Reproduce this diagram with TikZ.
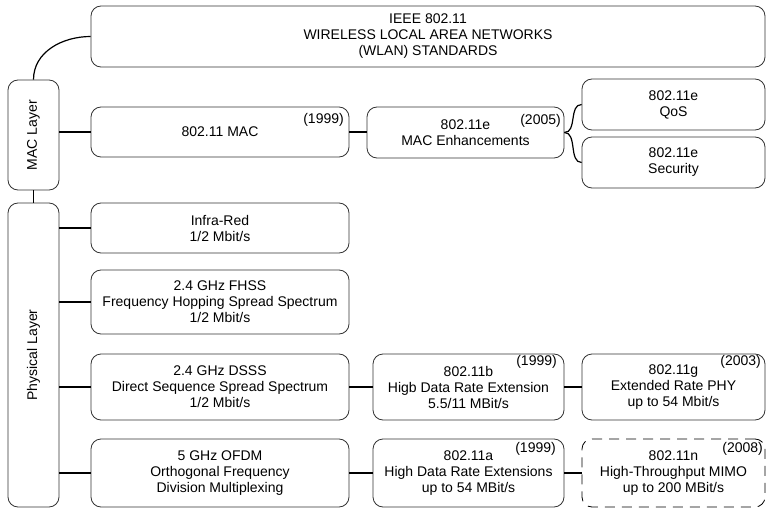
\documentclass[tikz,border=0pt]{standalone}
\usepackage{fontspec}
\setmainfont{Liberation Sans}
\usetikzlibrary{positioning}

\begin{document}
\begin{tikzpicture}[x=1pt, y=-1pt, font=\fontsize{14}{16}\selectfont,
  stdbox/.style={draw=black!80, line width=0.8pt, rounded corners=10pt, align=center, inner sep=0pt},
  year/.style={anchor=east, inner sep=0pt},
  link/.style={black, line width=1.2pt}]
  \useasboundingbox (0,0) rectangle (766,508);
  % ---- standard boxes: name / left / top / right / bottom / text ----
  \foreach \n/\xa/\ya/\xb/\yb/\t in {
    ieee/91/6/765/67/{IEEE 802.11\\WIRELESS LOCAL AREA NETWORKS\\(WLAN) STANDARDS},
    mac/8/80/59/190/{},
    phy/8/203/59/507/{},
    macstd/91/107/349/157/{802.11 MAC},
    emac/367/107/564/158/{802.11e\\MAC Enhancements},
    qos/582/79/765/130/{802.11e\\QoS},
    sec/582/137/765/188/{802.11e\\Security},
    ir/91/203/349/253/{Infra-Red\\1/2 Mbit/s},
    fhss/91/270/349/334/{2.4 GHz FHSS\\Frequency Hopping Spread Spectrum\\1/2 Mbit/s},
    dsss/91/354/349/420/{2.4 GHz DSSS\\Direct Sequence Spread Spectrum\\1/2 Mbit/s},
    ofdm/91/439/349/507/{5 GHz OFDM\\Orthogonal Frequency\\Division Multiplexing},
    hrb/373/354/564/420/{802.11b\\Higb Data Rate Extension\\5.5/11 MBit/s},
    erg/582/354/765/420/{802.11g\\Extended Rate PHY\\up to 54 Mbit/s},
    hra/373/439/564/507/{802.11a\\High Data Rate Extensions\\up to 54 MBit/s}} {
    \pgfmathsetmacro{\w}{\xb-\xa}
    \pgfmathsetmacro{\h}{\yb-\ya}
    \node[stdbox, minimum width=\w pt, minimum height=\h pt] (\n) at ({(\xa+\xb)/2},{(\ya+\yb)/2}) {\t};
  }
  % draft standard, dashed
  \node[stdbox, draw=black, dash pattern=on 10pt off 7pt, minimum width=183pt, minimum height=68pt] (htn) at (673.5,473) {802.11n\\High-Throughput MIMO\\up to 200 MBit/s};
  % ---- layer labels ----
  \node[rotate=90] (maclbl) at (mac.center) {MAC Layer};
  \node[rotate=90] (phylbl) at (phy.center) {Physical Layer};
  % ---- years ----
  \foreach \x/\y/\yr in {344/120/1999, 561/121/2005, 557/362/1999, 761/362/2003, 556/449/1999, 763/449/2008} {
    \node[year] (yr\x) at (\x,\y) {(\yr)};
  }
  % ---- connectors ----
  \draw[link] (mac.north) to[out=90, in=180] (ieee.west);
  \draw[link] (mac.south) -- (phy.north);
  \draw[link] (mac.east |- macstd.west) -- (macstd.west);
  \draw[link] (macstd.east) -- (macstd.east -| emac.west);
  \draw[link] (emac.east) .. controls +(13,0) and +(-13,0) .. (qos.west);
  \draw[link] (emac.east) .. controls +(13,0) and +(-13,0) .. (sec.west);
  \foreach \b in {ir, fhss, dsss, ofdm} {
    \draw[link] (phy.east |- \b.west) -- (\b.west);
  }
  \draw[link] (dsss.east) -- (hrb.west);
  \draw[link] (hrb.east) -- (erg.west);
  \draw[link] (ofdm.east) -- (hra.west);
  \draw[link] (hra.east) -- (htn.west);
\end{tikzpicture}
\end{document}
